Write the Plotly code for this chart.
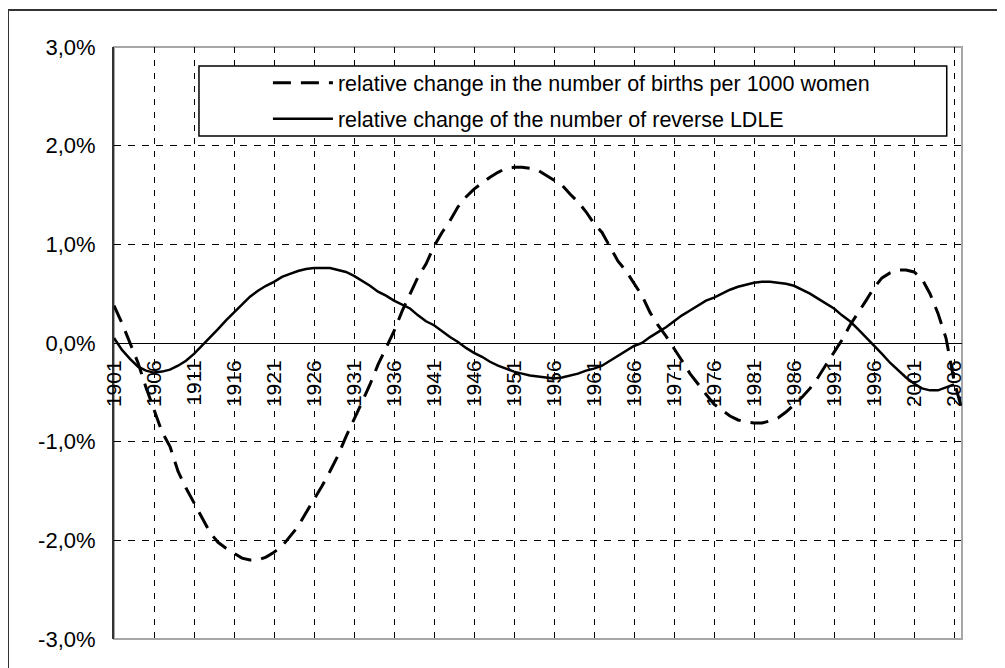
import plotly.graph_objects as go

years = list(range(1901, 2008))

births = [
    0.38, 0.20, 0.00, -0.20, -0.45, -0.68, -0.90, -1.05, -1.30, -1.47,
    -1.62, -1.78, -1.92, -2.02, -2.08, -2.13, -2.18, -2.20, -2.20, -2.17,
    -2.12, -2.06, -1.96, -1.86, -1.72, -1.59, -1.45, -1.30, -1.14, -0.95,
    -0.78, -0.60, -0.42, -0.22, -0.05, 0.12, 0.32, 0.50, 0.67, 0.80,
    0.98, 1.12, 1.24, 1.38, 1.48, 1.56, 1.62, 1.68, 1.73, 1.77,
    1.78, 1.78, 1.77, 1.75, 1.70, 1.65, 1.60, 1.51, 1.43, 1.33,
    1.21, 1.12, 0.97, 0.83, 0.73, 0.60, 0.48, 0.31, 0.18, 0.07,
    -0.05, -0.18, -0.31, -0.42, -0.52, -0.62, -0.68, -0.74, -0.78, -0.80,
    -0.81, -0.81, -0.79, -0.76, -0.70, -0.63, -0.55, -0.46, -0.35, -0.22,
    -0.10, 0.03, 0.18, 0.30, 0.43, 0.56, 0.66, 0.71, 0.74, 0.74,
    0.72, 0.65, 0.50, 0.30, 0.05, -0.38, -0.68,
]

ldle = [
    0.05, -0.07, -0.16, -0.24, -0.28, -0.30, -0.29, -0.27, -0.23, -0.18,
    -0.11, -0.03, 0.06, 0.14, 0.23, 0.31, 0.39, 0.47, 0.53, 0.58,
    0.62, 0.67, 0.70, 0.73, 0.75, 0.76, 0.76, 0.76, 0.74, 0.72,
    0.68, 0.63, 0.58, 0.52, 0.48, 0.43, 0.39, 0.35, 0.28, 0.22,
    0.18, 0.12, 0.06, 0.01, -0.05, -0.10, -0.14, -0.19, -0.23, -0.26,
    -0.29, -0.31, -0.33, -0.34, -0.35, -0.36, -0.35, -0.33, -0.31, -0.28,
    -0.26, -0.23, -0.18, -0.13, -0.08, -0.03, 0.00, 0.06, 0.11, 0.16,
    0.22, 0.28, 0.33, 0.38, 0.43, 0.46, 0.50, 0.54, 0.57, 0.59,
    0.61, 0.62, 0.62, 0.61, 0.60, 0.58, 0.54, 0.50, 0.45, 0.40,
    0.35, 0.28, 0.22, 0.14, 0.06, -0.02, -0.11, -0.20, -0.28, -0.35,
    -0.41, -0.46, -0.48, -0.48, -0.45, -0.42, None,
]

x_tick_years = list(range(1901, 2007, 5))
x_tick_text = [str(y) for y in x_tick_years]
y_tick_vals = [-3, -2, -1, 0, 1, 2, 3]
y_tick_text = ["-3,0%", "-2,0%", "-1,0%", "0,0%", "1,0%", "2,0%", "3,0%"]

names = [
    "relative change in the number of births per 1000 women",
    "relative change of the number of reverse LDLE",
]

FONT = "Liberation Sans, Arial, sans-serif"

fig = go.Figure()
fig.add_trace(go.Scatter(
    x=years, y=births, mode="lines", name=names[0], legendgroup="a",
    line=dict(color="black", width=3, dash="18px,10px"),
))
fig.add_trace(go.Scatter(
    x=years, y=ldle, mode="lines", name=names[1], legendgroup="b",
    line=dict(color="black", width=2.5),
))

fig.update_layout(
    width=1005, height=668,
    margin=dict(l=106, r=51, t=39, b=37),
    paper_bgcolor="white", plot_bgcolor="white",
    font=dict(family=FONT, size=21, color="black"),
    showlegend=True,
    legend=dict(
        x=0.1815, y=0.974, xanchor="left", yanchor="top",
        bgcolor="rgba(0,0,0,0)", borderwidth=0,
        itemwidth=60, tracegroupgap=5,
        font=dict(family=FONT, size=21.5, color="black"),
    ),
    xaxis=dict(
        range=[1901, 2007], tickmode="array", tickvals=x_tick_years, ticktext=x_tick_text,
        tickangle=-90, anchor="free", position=0.5,
        showline=True, linecolor="black", linewidth=1,
        showgrid=True, gridcolor="black", gridwidth=1, griddash="6px,7px",
        zeroline=False, ticks="", ticklabelstandoff=8,
        tickfont=dict(family=FONT, size=21, color="black"),
    ),
    yaxis=dict(
        range=[-3, 3], tickmode="array", tickvals=y_tick_vals, ticktext=y_tick_text,
        showline=True, linecolor="#333333", linewidth=2,
        showgrid=True, gridcolor="black", gridwidth=1, griddash="7px,7px",
        zeroline=False, ticks="", ticklabelstandoff=12,
        tickfont=dict(family=FONT, size=22, color="black"),
    ),
    shapes=[
        dict(type="rect", xref="paper", yref="paper", x0=0, x1=1, y0=0, y1=1,
             line=dict(color="#a6a6a6", width=2), layer="below"),
        dict(type="rect", xref="paper", yref="paper", x0=0.1002, x1=0.982, y0=0.8497, y1=0.968,
             line=dict(color="black", width=1.5), fillcolor="white", layer="above"),
        dict(type="rect", xref="paper", yref="paper", x0=-0.125, x1=1.06, y0=-0.06, y1=1.0625,
             line=dict(color="#333333", width=2), fillcolor="rgba(0,0,0,0)", layer="above"),
    ],
)

fig.write_html("out.html")
